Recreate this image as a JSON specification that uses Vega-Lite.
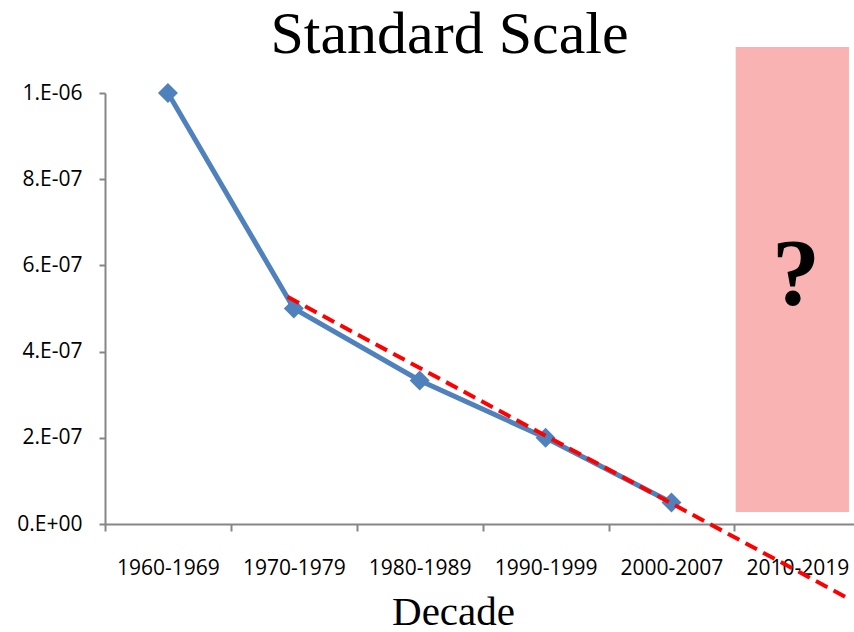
{
  "$schema": "https://vega.github.io/schema/vega-lite/v6.json",
  "width": 749,
  "height": 431,
  "autosize": {"type": "none"},
  "padding": {"left": 105, "top": 93, "right": 0, "bottom": 108},
  "background": "white",
  "title": {
    "text": "Standard Scale",
    "font": "Liberation Serif",
    "fontSize": 60,
    "fontWeight": "normal",
    "color": "black",
    "anchor": "middle",
    "frame": "group",
    "dx": -30,
    "offset": -66,
    "baseline": "alphabetic"
  },
  "config": {
    "view": {"stroke": null},
    "axis": {
      "grid": false,
      "domainColor": "#868686",
      "tickColor": "#868686",
      "domainWidth": 2,
      "tickWidth": 2,
      "labelFont": "Open Sans",
      "labelFontSize": 21,
      "labelColor": "black"
    }
  },
  "datasets": {
    "series": [
      {"decade": "1960-1969", "year": 1965, "value": 1e-6},
      {"decade": "1970-1979", "year": 1975, "value": 5e-7},
      {"decade": "1980-1989", "year": 1985, "value": 3.33e-7},
      {"decade": "1990-1999", "year": 1995, "value": 2e-7},
      {"decade": "2000-2007", "year": 2005, "value": 5e-8}
    ],
    "trend": [
      {"year": 1974.5, "value": 5.27e-7},
      {"year": 2019, "value": -1.72e-7}
    ],
    "zone": [
      {"start": 2010.1, "end": 2019.1, "top": 1.107e-6, "bottom": 2.8e-8}
    ],
    "note": [
      {"year": 2014.9, "value": 5.08e-7, "label": "?"}
    ]
  },
  "resolve": {"axis": {"x": "independent", "y": "independent"}},
  "layer": [
    {
      "data": {"name": "zone"},
      "mark": {"type": "rect", "fill": "#f9b3b3"},
      "encoding": {
        "x": {
          "field": "start", "type": "quantitative",
          "scale": {"domain": [1960, 2019.5], "nice": false, "zero": false},
          "axis": {
            "orient": "bottom",
            "values": [1960, 1970, 1980, 1990, 2000, 2010],
            "labels": false,
            "tickSize": 7,
            "title": null
          }
        },
        "x2": {"field": "end"},
        "y": {
          "field": "top", "type": "quantitative",
          "scale": {"domain": [0, 1e-6], "nice": false, "zero": false},
          "axis": null
        },
        "y2": {"field": "bottom"}
      }
    },
    {
      "data": {"name": "series"},
      "mark": {"type": "line", "color": "#4F81BD", "strokeWidth": 5},
      "encoding": {
        "x": {
          "field": "year", "type": "quantitative",
          "axis": {
            "orient": "bottom",
            "values": [1965, 1975, 1985, 1995, 2005, 2015],
            "labelExpr": "datum.value == 2005 ? '2000-2007' : (datum.value - 5) + '-' + (datum.value + 4)",
            "ticks": false,
            "tickSize": 0,
            "domain": false,
            "labelPadding": 33,
            "labelOverlap": false,
            "labelFlush": false,
            "labelBound": false,
            "title": "Decade",
            "titleFont": "Liberation Serif",
            "titleFontSize": 41,
            "titleFontWeight": "normal",
            "titleColor": "black",
            "titlePadding": 14,
            "titleX": 348,
            "titleAlign": "center",
            "titleAnchor": "start"
          }
        },
        "y": {
          "field": "value", "type": "quantitative",
          "axis": {
            "orient": "left",
            "values": [0, 2e-7, 4e-7, 6e-7, 8e-7, 1e-6],
            "labelExpr": "datum.value == 0 ? '0.E+00' : datum.value > 9e-7 ? '1.E-06' : round(datum.value * 1e7) + '.E-07'",
            "tickSize": 6,
            "labelPadding": 17,
            "title": null
          }
        }
      }
    },
    {
      "data": {"name": "series"},
      "mark": {"type": "point", "shape": "diamond", "filled": true, "color": "#4F81BD", "size": 400, "opacity": 1},
      "encoding": {
        "x": {"field": "year", "type": "quantitative", "axis": null},
        "y": {"field": "value", "type": "quantitative", "axis": null}
      }
    },
    {
      "data": {"name": "trend"},
      "mark": {"type": "line", "color": "#FF0000", "strokeWidth": 4, "strokeDash": [13, 7]},
      "encoding": {
        "x": {"field": "year", "type": "quantitative", "axis": null},
        "y": {"field": "value", "type": "quantitative", "axis": null}
      }
    },
    {
      "data": {"name": "note"},
      "mark": {"type": "text", "font": "Liberation Serif", "fontWeight": "bold", "fontSize": 96, "align": "center", "baseline": "alphabetic", "color": "black"},
      "encoding": {
        "x": {"field": "year", "type": "quantitative", "axis": null},
        "y": {"field": "value", "type": "quantitative", "axis": null},
        "text": {"field": "label"}
      }
    }
  ]
}
